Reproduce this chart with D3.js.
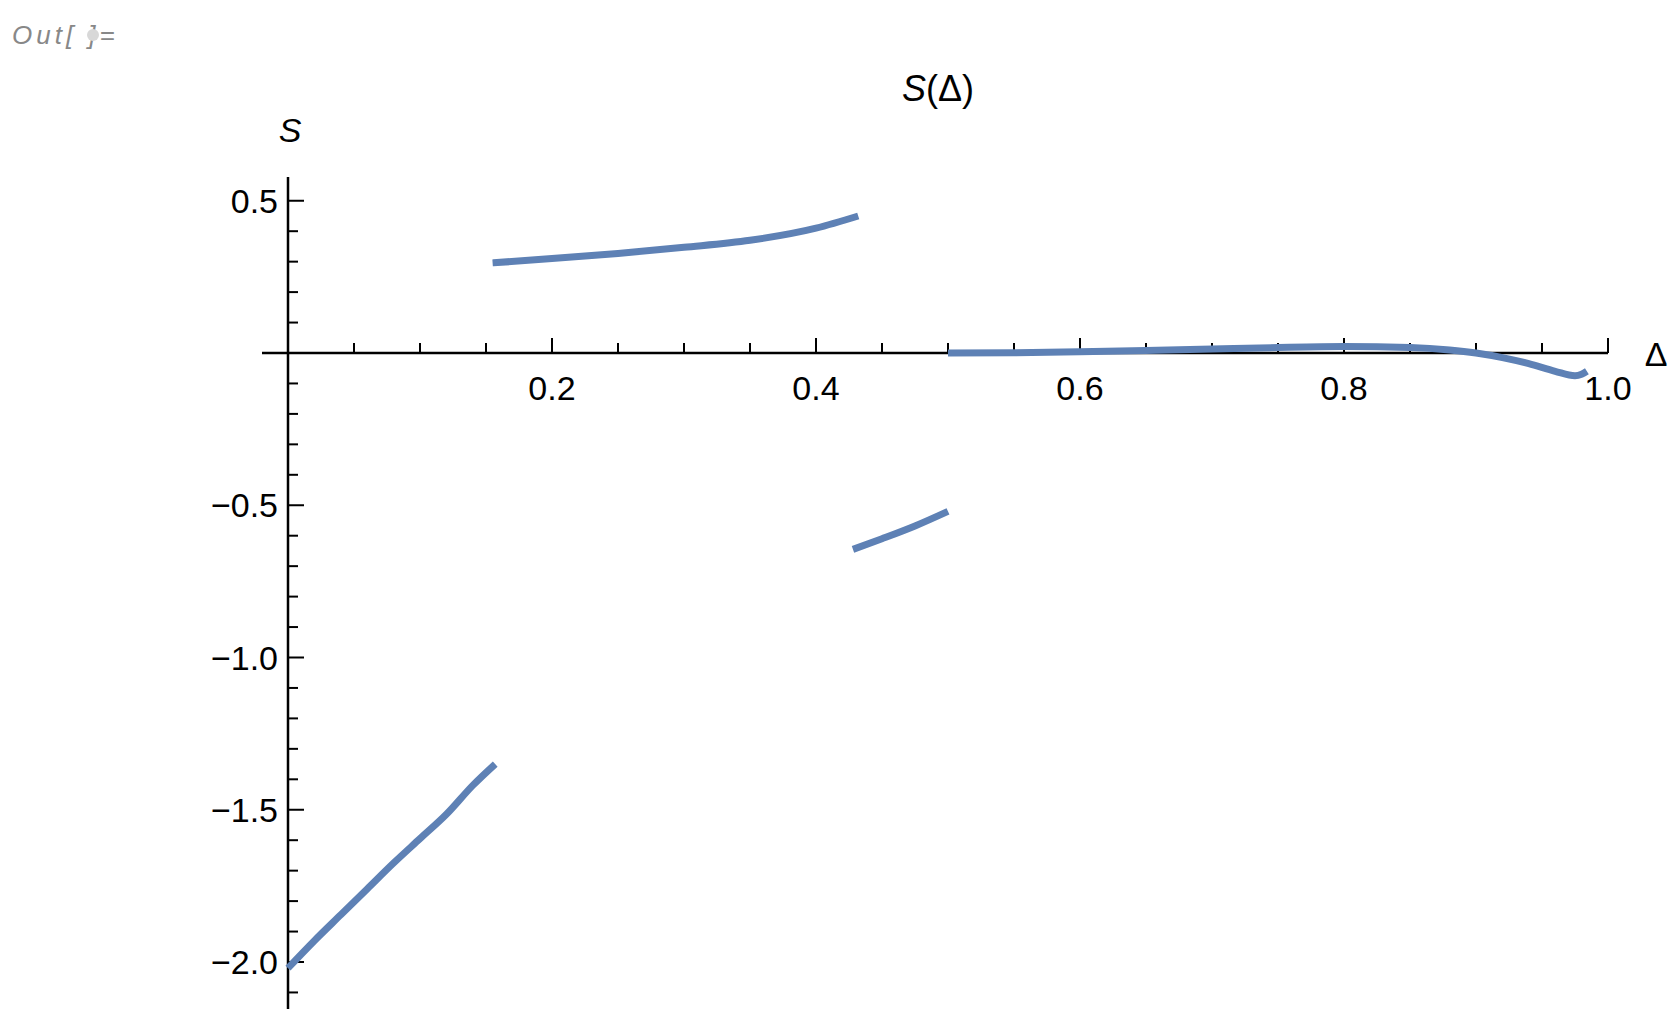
<!doctype html>
<html>
<head>
    <script src="https://d3js.org/d3.v7.min.js"></script>
</head>
<style>
    body { margin: 0; background: white; }
    text { font-family: "Liberation Sans", Arial, sans-serif; }
</style>
<body>
<svg id="chart" width="1679" height="1028"></svg>
<script>
    // curve pieces: [delta, S]
    const branchA = [[0, -2.02], [0.02, -1.93], [0.04, -1.845], [0.06, -1.76], [0.08, -1.675], [0.10, -1.595], [0.12, -1.515], [0.14, -1.42], [0.157, -1.35]];
    const branchB = [[0.155, 0.296], [0.2, 0.31], [0.25, 0.327], [0.3, 0.347], [0.35, 0.37], [0.4, 0.41], [0.432, 0.45]];
    const branchC = [[0.428, -0.645], [0.45, -0.61], [0.475, -0.568], [0.5, -0.52]];
    const branchD = [[0.5, 0.0], [0.55, 0.001], [0.6, 0.004], [0.65, 0.008], [0.7, 0.013], [0.75, 0.018], [0.8, 0.021], [0.85, 0.018], [0.88, 0.01], [0.9, 0.0], [0.92, -0.015], [0.94, -0.035], [0.96, -0.06], [0.975, -0.075], [0.98, -0.07], [0.984, -0.06]];
    const branches = [branchA, branchB, branchC, branchD];

    const xMajor = [0.2, 0.4, 0.6, 0.8, 1.0];
    const yMajor = [0.5, -0.5, -1.0, -1.5, -2.0];

    const svg = d3.select('#chart');
    const x = d3.scaleLinear().domain([0, 1]).range([288, 1608]);
    const y = d3.scaleLinear().domain([0, -2]).range([353, 962]);

    svg.append('text').attr('x', 12).attr('y', 44).attr('fill', '#888')
        .style('font-style', 'italic').style('font-size', '26px').style('letter-spacing', '4px')
        .text('Out[ ]=');
    svg.append('circle').attr('cx', 93).attr('cy', 35).attr('r', 6).attr('fill', '#d8d8d8');

    // axes
    const ax = svg.append('g').attr('stroke', 'black');
    ax.append('line').attr('x1', 262).attr('x2', x(1)).attr('y1', y(0)).attr('y2', y(0)).attr('stroke-width', 2.5);
    ax.append('line').attr('x1', x(0)).attr('x2', x(0)).attr('y1', 177).attr('y2', 1009).attr('stroke-width', 2.5);

    const xTicks = d3.range(1, 21).map(i => i * 0.05);
    ax.selectAll(null).data(xTicks).enter().append('line')
        .attr('x1', d => x(d)).attr('x2', d => x(d))
        .attr('y1', y(0)).attr('y2', (d, i) => y(0) - ((i + 1) % 4 === 0 ? 15 : 10))
        .attr('stroke-width', 2);
    const yTicks = d3.range(-21, 6).filter(i => i !== 0).map(i => i / 10);
    ax.selectAll(null).data(yTicks).enter().append('line')
        .attr('y1', d => y(d)).attr('y2', d => y(d))
        .attr('x1', x(0)).attr('x2', d => x(0) + (Math.abs(d * 10) % 5 === 0 ? 16 : 10))
        .attr('stroke-width', 2);

    svg.selectAll(null).data(xMajor).enter().append('text')
        .attr('x', d => x(d)).attr('y', y(0) + 47).attr('text-anchor', 'middle')
        .style('font-size', '34px').text(d => d.toFixed(1));
    svg.selectAll(null).data(yMajor).enter().append('text')
        .attr('x', x(0) - 10).attr('y', d => y(d) + 12).attr('text-anchor', 'end')
        .style('font-size', '34px').text(d => (d < 0 ? '\u2212' : '') + Math.abs(d).toFixed(1));

    svg.append('text').attr('x', 290).attr('y', 142).attr('text-anchor', 'middle')
        .style('font-size', '34px').style('font-style', 'italic').text('S');
    svg.append('text').attr('x', 1656).attr('y', 366).attr('text-anchor', 'middle')
        .style('font-size', '34px').text('\u0394');
    const title = svg.append('text').attr('x', 938).attr('y', 101).attr('text-anchor', 'middle').style('font-size', '36px');
    title.append('tspan').style('font-style', 'italic').text('S');
    title.append('tspan').text('(\u0394)');

    const line = d3.line().x(d => x(d[0])).y(d => y(d[1])).curve(d3.curveMonotoneX);
    svg.selectAll(null).data(branches).enter().append('path')
        .attr('d', line).attr('fill', 'none').attr('stroke', '#5E81B5').attr('stroke-width', 7);
</script>
</body>
</html>
